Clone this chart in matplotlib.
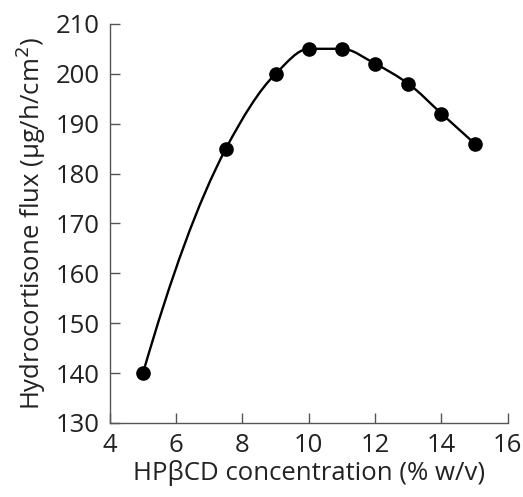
import matplotlib
matplotlib.use("Agg")
import matplotlib.pyplot as plt
from matplotlib.path import Path
from matplotlib.patches import PathPatch

plt.rcParams['font.family'] = ['Open Sans', 'DejaVu Sans']

# data
conc = [5, 7.5, 9, 10, 11, 12, 13, 14, 15]
flux = [140, 185, 200, 205, 205, 202, 198, 192, 186]

x_ticks = [4, 6, 8, 10, 12, 14, 16]
y_ticks = [130, 140, 150, 160, 170, 180, 190, 200, 210]

fig = plt.figure(figsize=(5.23, 4.97), dpi=100)
ax = fig.add_axes([0.210, 0.149, 0.761, 0.803])

# smooth line: monotone cubic (PCHIP-style) tangents, drawn as bezier segments
n = len(conc)
h = [conc[i + 1] - conc[i] for i in range(n - 1)]
d = [(flux[i + 1] - flux[i]) / h[i] for i in range(n - 1)]
m = [0.0] * n
for i in range(1, n - 1):
    if d[i - 1] * d[i] > 0:
        w1 = 2 * h[i] + h[i - 1]
        w2 = h[i] + 2 * h[i - 1]
        m[i] = (w1 + w2) / (w1 / d[i - 1] + w2 / d[i])
m[0] = ((2 * h[0] + h[1]) * d[0] - h[0] * d[1]) / (h[0] + h[1])
m[-1] = ((2 * h[-1] + h[-2]) * d[-1] - h[-1] * d[-2]) / (h[-1] + h[-2])

verts = [(conc[0], flux[0])]
codes = [Path.MOVETO]
for i in range(n - 1):
    c1 = (conc[i] + h[i] / 3, flux[i] + m[i] * h[i] / 3)
    c2 = (conc[i + 1] - h[i] / 3, flux[i + 1] - m[i + 1] * h[i] / 3)
    verts += [c1, c2, (conc[i + 1], flux[i + 1])]
    codes += [Path.CURVE4] * 3
ax.add_patch(PathPatch(Path(verts, codes), facecolor='none', edgecolor='black', lw=1.7))
ax.plot(conc, flux, 'o', color='black', markersize=9.5)

ax.set_xlim(4, 16)
ax.set_ylim(130, 210)
ax.set_xticks(x_ticks)
ax.set_yticks(y_ticks)
ax.tick_params(direction='in', length=7, width=1, color='#555555',
               labelsize=18.5, colors='#222222', pad=7)
for s in ['top', 'right']:
    ax.spines[s].set_visible(False)
for s in ['left', 'bottom']:
    ax.spines[s].set_color('#555555')
    ax.spines[s].set_linewidth(1)

ax.set_xlabel('HPβCD concentration (% w/v)', fontsize=18.5, color='#222222', labelpad=2)
ax.set_ylabel('Hydrocortisone flux (μg/h/cm$^2$)', fontsize=18.5, color='#222222', labelpad=6)

fig.savefig('out.png', dpi=100)
